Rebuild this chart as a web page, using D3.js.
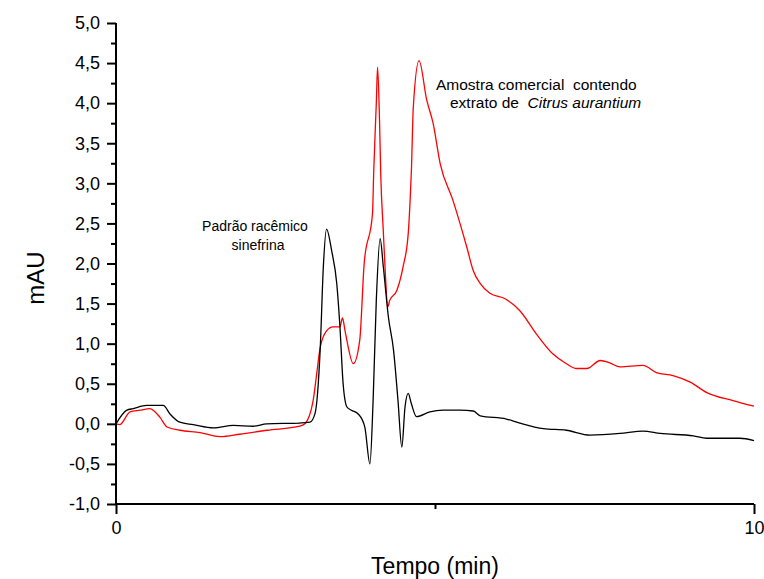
<!DOCTYPE html>
<html>
<head>
<meta charset="utf-8">
<script src="https://cdn.jsdelivr.net/npm/d3@7/dist/d3.min.js"></script>
<style>
  html, body { margin: 0; padding: 0; background: #fff; }
  svg text { font-family: "Liberation Sans", Arial, sans-serif; }
</style>
</head>
<body>
<svg id="chart" width="764" height="579"></svg>
<script>
// ---- Data (time in min, absorbance in mAU) ----
const sampleTime = [0.00, 0.06, 0.22, 0.38, 0.53, 0.69, 0.80, 1.00, 1.32, 1.63, 1.94, 2.37, 2.88, 2.96, 3.09, 3.15, 3.20, 3.30, 3.40, 3.51, 3.55, 3.59, 3.72, 3.82, 3.89, 4.02, 4.04, 4.08, 4.10, 4.13, 4.15, 4.19, 4.22, 4.26, 4.29, 4.40, 4.50, 4.58, 4.61, 4.63, 4.66, 4.75, 4.87, 4.97, 5.08, 5.28, 5.50, 5.60, 5.71, 5.86, 6.10, 6.33, 6.59, 6.85, 7.06, 7.22, 7.38, 7.59, 7.74, 7.90, 8.26, 8.47, 8.73, 9.00, 9.26, 9.67, 10.00];
const sampleValue = [0.00, -0.01, 0.15, 0.17, 0.19, 0.08, -0.04, -0.08, -0.11, -0.16, -0.13, -0.08, -0.03, 0.00, 0.29, 0.65, 0.95, 1.16, 1.21, 1.21, 1.32, 1.16, 0.75, 1.04, 2.00, 2.62, 3.16, 4.00, 4.45, 3.80, 3.10, 2.40, 1.90, 1.46, 1.54, 1.66, 1.96, 2.37, 2.79, 3.16, 3.95, 4.53, 4.04, 3.75, 3.25, 2.79, 2.20, 1.91, 1.75, 1.63, 1.56, 1.41, 1.12, 0.87, 0.75, 0.69, 0.69, 0.79, 0.76, 0.71, 0.73, 0.64, 0.60, 0.52, 0.39, 0.29, 0.22];

const standardTime = [0.00, 0.17, 0.27, 0.48, 0.74, 0.85, 1.00, 1.21, 1.53, 1.84, 2.15, 2.36, 2.88, 3.04, 3.12, 3.20, 3.25, 3.30, 3.38, 3.46, 3.51, 3.56, 3.62, 3.69, 3.80, 3.90, 3.98, 4.03, 4.08, 4.14, 4.19, 4.27, 4.35, 4.42, 4.48, 4.53, 4.58, 4.63, 4.71, 4.92, 5.13, 5.39, 5.60, 5.71, 6.12, 6.33, 6.70, 7.06, 7.43, 7.90, 8.26, 8.53, 9.05, 9.26, 9.78, 10.00];
const standardValue = [0.00, 0.17, 0.19, 0.23, 0.23, 0.12, 0.02, -0.01, -0.05, -0.02, -0.03, 0.00, 0.01, 0.02, 0.13, 0.92, 1.96, 2.43, 2.16, 1.75, 1.21, 0.50, 0.21, 0.17, 0.12, -0.04, -0.50, 0.29, 1.54, 2.31, 1.96, 1.33, 0.92, 0.29, -0.29, 0.21, 0.38, 0.25, 0.09, 0.15, 0.17, 0.17, 0.16, 0.10, 0.06, 0.01, -0.06, -0.08, -0.14, -0.12, -0.09, -0.12, -0.15, -0.18, -0.18, -0.21];

const yMajorTicks = [-1.0, -0.5, 0.0, 0.5, 1.0, 1.5, 2.0, 2.5, 3.0, 3.5, 4.0, 4.5, 5.0];
const yMinorTicks = [-0.75, -0.25, 0.25, 0.75, 1.25, 1.75, 2.25, 2.75, 3.25, 3.75, 4.25, 4.75];
const xMajorTicks = [0, 10];
const xMinorTicks = [5];

const xTitle = "Tempo (min)";
const yTitle = "mAU";

// ---- Layout ----
const svg = d3.select("#chart");
const x = d3.scaleLinear().domain([0, 10]).range([116, 754]);
const y = d3.scaleLinear().domain([-1, 5]).range([504, 23]);
const fmt = d => d3.format(".1f")(d).replace(".", ",").replace("−", "-");

// Curves
const line = d3.line().x(d => x(d[0])).y(d => y(d[1])).curve(d3.curveMonotoneX);
svg.append("path")
  .datum(sampleTime.map((t, i) => [t, sampleValue[i]]))
  .attr("d", line).attr("fill", "none").attr("stroke", "#ff0000").attr("stroke-width", 1.3);
svg.append("path")
  .datum(standardTime.map((t, i) => [t, standardValue[i]]))
  .attr("d", line).attr("fill", "none").attr("stroke", "#000").attr("stroke-width", 1.3);

// Y axis
const yAxis = svg.append("g").attr("transform", "translate(116,0)")
  .call(d3.axisLeft(y).tickValues(yMajorTicks).tickSize(9).tickPadding(7).tickFormat(fmt));
yAxis.select(".domain").attr("stroke-width", 2).attr("d", `M0,${y(5)}V${y(-1)}`);
yAxis.selectAll(".tick line").attr("stroke-width", 2);
yAxis.selectAll(".tick text").attr("font-size", 18).attr("fill", "#000");
svg.append("g").attr("transform", "translate(116,0)")
  .call(d3.axisLeft(y).tickValues(yMinorTicks).tickSize(5).tickFormat(""))
  .call(g => g.select(".domain").remove())
  .selectAll(".tick line").attr("stroke-width", 2);

// X axis
const xAxis = svg.append("g").attr("transform", "translate(0,504)")
  .call(d3.axisBottom(x).tickValues(xMajorTicks).tickSize(10).tickPadding(7).tickFormat(d3.format("d")));
xAxis.select(".domain").attr("stroke-width", 2).attr("d", `M${x(0)},0H${x(10)}`);
xAxis.selectAll(".tick line").attr("stroke-width", 2);
xAxis.selectAll(".tick text").attr("font-size", 18).attr("fill", "#000");
svg.append("g").attr("transform", "translate(0,504)")
  .call(d3.axisBottom(x).tickValues(xMinorTicks).tickSize(5).tickFormat(""))
  .call(g => g.select(".domain").remove())
  .selectAll(".tick line").attr("stroke-width", 2);

// Titles
svg.append("text").attr("x", 435).attr("y", 574).attr("text-anchor", "middle")
  .attr("font-size", 23).text(xTitle);
svg.append("text").attr("transform", "translate(44,278) rotate(-90)").attr("text-anchor", "middle")
  .attr("font-size", 24).text(yTitle);

// Annotations
const a1 = svg.append("text").attr("font-size", 14).attr("text-anchor", "middle");
a1.append("tspan").attr("x", 255).attr("y", 231).text("Padrão racêmico");
a1.append("tspan").attr("x", 258).attr("y", 250).text("sinefrina");

const a2 = svg.append("text").attr("font-size", 15.5).style("white-space", "pre");
a2.append("tspan").attr("x", 436).attr("y", 90).text("Amostra comercial  contendo");
const l2 = a2.append("tspan").attr("x", 450).attr("y", 108);
l2.append("tspan").text("extrato de  ");
l2.append("tspan").attr("font-style", "italic").text("Citrus aurantium");
</script>
</body>
</html>
